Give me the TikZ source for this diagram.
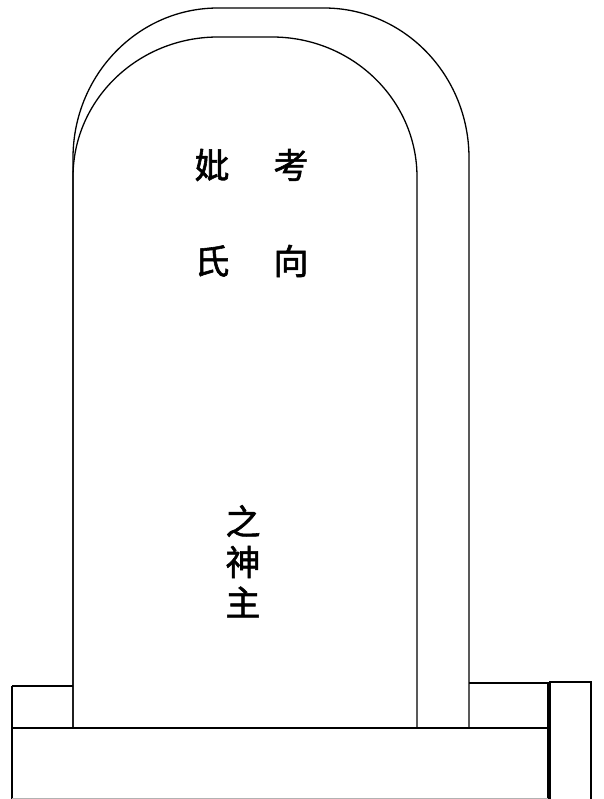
\documentclass[tikz,border=0pt]{standalone}
\usepackage{fontspec}
\newfontfamily\cjk[FakeBold=1.6]{Noto Sans CJK SC}
\begin{document}
\begin{tikzpicture}[x=1pt,y=-1pt,line width=1.3pt,line join=miter,
  ch/.style={font=\cjk\fontsize{35}{35}\selectfont,inner sep=0pt,anchor=center},
  thick line/.style={line width=1.7pt}]
\useasboundingbox (0,0) rectangle (603,799);
\path[fill=white] (0,0) rectangle (603,799);
% outer arch
\draw (73,728) -- (73,158)
  arc[start angle=180,end angle=270,x radius=145,y radius=150] -- (324,8)
  arc[start angle=270,end angle=360,x radius=145,y radius=150] -- (469,728);
% inner arch (front face)
\draw (73,728) -- (73,177)
  arc[start angle=180,end angle=270,x radius=145,y radius=140] -- (272,37)
  arc[start angle=270,end angle=360,x radius=145,y radius=140] -- (417,728);
% base
\draw[thick line] (12,728) -- (548,728);
\draw (12,686) -- (73,686);
\draw (12,686) -- (12,799);
\draw (469,683) -- (548,683) -- (548,799);
\draw[gray!60,line width=0.8pt] (12,798) -- (548,798);
% tall right block
\draw (550,799) -- (550,682) -- (591,682) -- (591,799);
% texts
\node[ch] (kao) at (291,165) {考};
\node[ch] (bi) at (212,165) {妣};
\node[ch] (xiang) at (291,261) {向};
\node[ch] (shi) at (212,261) {氏};
\node[ch] (zhi) at (243,521) {之};
\node[ch] (shen) at (243,562) {神};
\node[ch] (zhu) at (243,602) {主};
\end{tikzpicture}
\end{document}
